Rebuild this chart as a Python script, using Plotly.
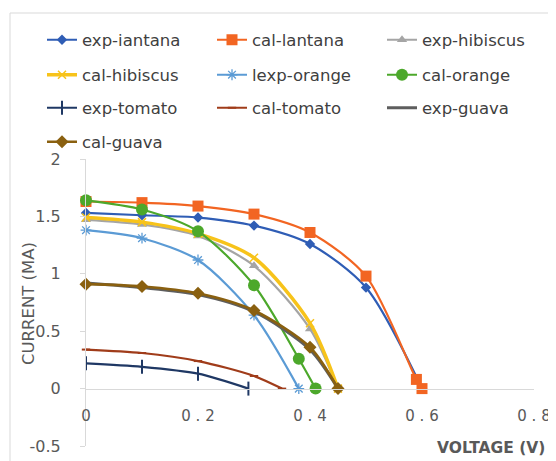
import plotly.graph_objects as go

# ---- data ----
x_exp_lantana = [0, 0.1, 0.2, 0.3, 0.4, 0.5, 0.6]
y_exp_lantana = [1.53, 1.51, 1.49, 1.42, 1.26, 0.88, 0]

x_cal_lantana = [0, 0.1, 0.2, 0.3, 0.4, 0.5, 0.59, 0.6]
y_cal_lantana = [1.63, 1.62, 1.59, 1.52, 1.36, 0.98, 0.08, 0]

x_exp_hibiscus = [0, 0.1, 0.2, 0.3, 0.4, 0.45]
y_exp_hibiscus = [1.47, 1.43, 1.33, 1.07, 0.52, 0]

x_cal_hibiscus = [0, 0.1, 0.2, 0.3, 0.4, 0.45]
y_cal_hibiscus = [1.49, 1.45, 1.35, 1.14, 0.57, 0]

x_exp_orange = [0, 0.1, 0.2, 0.3, 0.38]
y_exp_orange = [1.38, 1.31, 1.12, 0.64, 0]

x_cal_orange = [0, 0.1, 0.2, 0.3, 0.38, 0.41]
y_cal_orange = [1.64, 1.56, 1.37, 0.90, 0.26, 0]

x_exp_tomato = [0, 0.1, 0.2, 0.29]
y_exp_tomato = [0.22, 0.19, 0.13, 0]

x_cal_tomato = [0, 0.1, 0.2, 0.3, 0.35]
y_cal_tomato = [0.34, 0.31, 0.24, 0.11, 0]

x_exp_guava = [0, 0.1, 0.2, 0.3, 0.4, 0.45]
y_exp_guava = [0.92, 0.88, 0.82, 0.67, 0.34, 0]

x_cal_guava = [0, 0.1, 0.2, 0.3, 0.4, 0.45]
y_cal_guava = [0.91, 0.89, 0.83, 0.68, 0.36, 0]

x_tickvals = [0, 0.2, 0.4, 0.6, 0.8]
x_ticktext = ["0", "0 . 2", "0 . 4", "0 . 6", "0 . 8"]
y_tickvals = [-0.5, 0, 0.5, 1, 1.5, 2]
y_ticktext = ["-0.5", "0", "0.5", "1", "1.5", "2"]

# ---- figure geometry (page body has an 8px margin) ----
OFF = 8
W, H = 556 - OFF, 461 - OFF
ML, MR, MT, MB = 86 - OFF, 22, 159 - OFF, 15
PW, PH = W - ML - MR, H - MT - MB


def px_x(px):  # screen px -> paper
    return (px - OFF - ML) / PW


def px_y(py):  # screen px -> paper
    return (H - MB - (py - OFF)) / PH


series = [
    ("exp-iantana", x_exp_lantana, y_exp_lantana, "#2F5DB5", 2.2, dict(symbol="diamond", size=8), "legend"),
    ("cal-lantana", x_cal_lantana, y_cal_lantana, "#F26522", 2.2, dict(symbol="square", size=11), "legend"),
    ("exp-hibiscus", x_exp_hibiscus, y_exp_hibiscus, "#A5A5A5", 2.2, dict(symbol="triangle-up", size=9), "legend"),
    ("cal-hibiscus", x_cal_hibiscus, y_cal_hibiscus, "#F7C31A", 3.5,
     dict(symbol="x-thin", size=8, line=dict(width=1.5, color="#F7C31A")), "legend2"),
    ("lexp-orange", x_exp_orange, y_exp_orange, "#5B9BD5", 2.2,
     dict(symbol="asterisk", size=9, line=dict(width=1.3, color="#5B9BD5")), "legend2"),
    ("cal-orange", x_cal_orange, y_cal_orange, "#4CA82B", 2.2, dict(symbol="circle", size=12), "legend2"),
    ("exp-tomato", x_exp_tomato, y_exp_tomato, "#1F3864", 2.2,
     dict(symbol="line-ns", size=10, line=dict(width=2, color="#1F3864")), "legend3"),
    ("cal-tomato", x_cal_tomato, y_cal_tomato, "#A03C1A", 2.2,
     dict(symbol="line-ew", size=6, line=dict(width=2, color="#A03C1A")), "legend3"),
    ("exp-guava", x_exp_guava, y_exp_guava, "#5E5E5E", 3.0, None, "legend3"),
    ("cal-guava", x_cal_guava, y_cal_guava, "#8A6010", 2.6, dict(symbol="diamond", size=10), "legend4"),
]

fig = go.Figure()
for name, xs, ys, col, lw, mk, lg in series:
    kw = dict(x=xs, y=ys, name=name, legend=lg, cliponaxis=False,
              line=dict(color=col, width=lw, shape="spline", smoothing=0.8))
    if mk is None:
        kw["mode"] = "lines"
    else:
        mk = dict(mk)
        mk.setdefault("color", col)
        kw["mode"] = "lines+markers"
        kw["marker"] = mk
    fig.add_trace(go.Scatter(**kw))

legend_font = dict(family="DejaVu Sans", size=16.5, color="#404040")
row_py = [40, 75, 108, 142]
legends = {}
for i, py in enumerate(row_py):
    key = "legend" if i == 0 else f"legend{i + 1}"
    legends[key] = dict(
        orientation="h", x=px_x(42), xanchor="left", y=px_y(py), yanchor="middle",
        font=legend_font, entrywidth=125, entrywidthmode="pixels",
        bgcolor="rgba(0,0,0,0)", borderwidth=0, itemclick=False, traceorder="normal",
    )

fig.update_layout(
    width=W, height=H,
    margin=dict(l=ML, r=MR, t=MT, b=MB, autoexpand=False),
    paper_bgcolor="white", plot_bgcolor="white",
    showlegend=True,
    **legends,
    xaxis=dict(
        range=[0, 0.8], tickvals=x_tickvals, ticktext=x_ticktext, automargin=False,
        showgrid=False, zeroline=False, showline=True, linecolor="#D9D9D9", linewidth=1,
        ticks="", anchor="free", position=0.2,
        tickfont=dict(family="DejaVu Sans", size=15, color="#595959"), ticklabelstandoff=13,
    ),
    yaxis=dict(
        range=[-0.5, 2], tickvals=y_tickvals, ticktext=y_ticktext, automargin=False,
        showgrid=False, zeroline=False, showline=True, linecolor="#D9D9D9", linewidth=1,
        ticks="outside", ticklen=5, tickcolor="#D9D9D9",
        tickfont=dict(family="DejaVu Sans", size=16, color="#595959"),
        ticklabelstandoff=16,
    ),
    shapes=[dict(type="rect", xref="paper", yref="paper",
                 x0=px_x(10), x1=px_x(600), y0=px_y(500), y1=px_y(13),
                 line=dict(color="#D9D9D9", width=1), fillcolor="rgba(0,0,0,0)", layer="below")],
    annotations=[
        dict(text="<b>VOLTAGE (V)</b>", xref="paper", yref="paper",
             x=px_x(547), y=px_y(448), xanchor="right", yanchor="middle",
             showarrow=False, font=dict(family="DejaVu Sans", size=15.5, color="#595959")),
        dict(text="CURRENT (MA)", xref="paper", yref="paper", textangle=-90,
             x=px_x(28), y=px_y(303), xanchor="center", yanchor="middle",
             showarrow=False, font=dict(family="DejaVu Sans", size=16.5, color="#595959")),
    ],
)

fig.write_html("out.html")
